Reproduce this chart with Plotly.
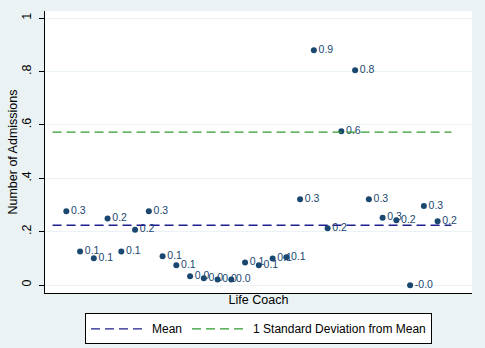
import plotly.graph_objects as go

# admissions per life coach
coach = list(range(1, 29))
admissions = [0.276, 0.126, 0.100, 0.249, 0.126, 0.207, 0.276, 0.108, 0.074, 0.033,
              0.025, 0.021, 0.021, 0.084, 0.074, 0.099, 0.104, 0.321, 0.880, 0.213,
              0.576, 0.805, 0.321, 0.252, 0.243, -0.001, 0.296, 0.239]
line_x = [0, 29]
mean_val = 0.224
sd_val = 0.573
y_ticks = [0, 0.2, 0.4, 0.6, 0.8, 1]
y_ticktext = ["0", ".2", ".4", ".6", ".8", "1"]

labels = [f"{v:.1f}" for v in admissions]
navy = "#1a476f"
font = "Arial, Liberation Sans, sans-serif"

fig = go.Figure()
fig.add_trace(go.Scatter(x=coach, y=admissions, mode="markers+text", text=labels,
                         textposition="middle right",
                         textfont=dict(size=10.5, color=navy),
                         marker=dict(size=6, color=navy), showlegend=False))
fig.add_trace(go.Scatter(x=line_x, y=[mean_val] * 2, mode="lines", name="Mean",
                         line=dict(color="#1f1f8f", width=1.3, dash="9px,5px")))
fig.add_trace(go.Scatter(x=line_x, y=[sd_val] * 2, mode="lines",
                         name="1 Standard Deviation from Mean",
                         line=dict(color="#2e9a2e", width=1.3, dash="9px,5px")))

fig.update_layout(
    width=485, height=348,
    margin=dict(l=45, r=13, t=11, b=55, autoexpand=False),
    paper_bgcolor="#eaf2f3", plot_bgcolor="white",
    font=dict(family=font, size=12, color="black"),
    legend=dict(orientation="h", x=0.5, xanchor="center", y=-0.072, yanchor="top",
                bgcolor="white", bordercolor="black", borderwidth=1,
                font=dict(size=12), itemwidth=56),
)
# y title as annotation so it sits where Stata puts it
fig.add_annotation(text="Number of Admissions", textangle=-90, showarrow=False,
                   xref="paper", yref="paper", x=-0.076, y=0.5,
                   xanchor="center", yanchor="middle", font=dict(size=12.5))
fig.update_xaxes(range=[-0.55, 30.5], showgrid=False, zeroline=False, automargin=False,
                 showticklabels=False, ticks="", showline=True, linecolor="black",
                 linewidth=1, title=dict(text="Life Coach", standoff=2,
                                         font=dict(size=12.5)))
fig.update_yaxes(range=[-0.03, 1.027], tickvals=y_ticks, ticktext=y_ticktext,
                 tickangle=-90, ticks="outside", ticklen=5, tickcolor="black",
                 showline=True, linecolor="black", linewidth=1, automargin=False,
                 gridcolor="#eaf2f3", gridwidth=1, zeroline=False,
                 tickfont=dict(size=12.5), ticklabelstandoff=3)

fig.write_html("out.html", config={"displayModeBar": False},
               post_script="document.body.style.margin='0';")
